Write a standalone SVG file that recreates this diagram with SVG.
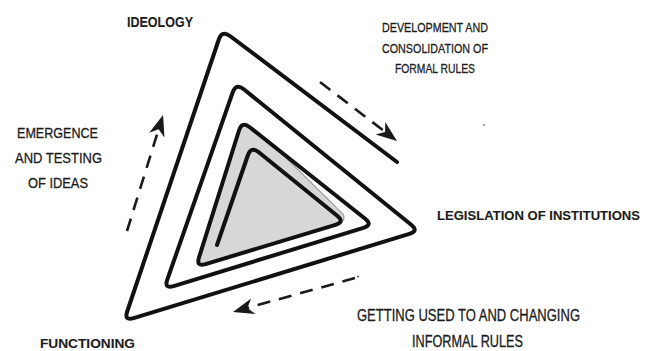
<svg xmlns="http://www.w3.org/2000/svg" width="654" height="351" viewBox="0 0 654 351">
  <style>
    .spiral { fill: none; stroke: #111; stroke-width: 4; stroke-linecap: round; stroke-linejoin: round; }
    .core { fill: #d7d7d7; stroke: #9c9c9c; stroke-width: 1.2; }
    .dash { fill: none; stroke: #1a1a1a; stroke-width: 2.6; stroke-dasharray: 13 9; }
    .lbl { font-family: "Liberation Sans", Arial, sans-serif; fill: #1c1c1c; stroke: #1c1c1c; stroke-width: 0.3; }
    .b { font-weight: bold; stroke-width: 0.1; }
  </style>
  <defs>
    <marker id="ah" viewBox="-22 -9 23 18" refX="-14" refY="0" markerWidth="23" markerHeight="18" markerUnits="userSpaceOnUse" orient="auto">
      <path d="M0,0 L-21,-8 L-15,0 L-21,8 Z" fill="#1a1a1a"/>
    </marker>
  </defs>

  <g id="spiral-triangle">
    <path class="core" d="M249.8,127.2 Q242,121 239,130.5 L199,257.5 Q196,267 205.6,264.1 L335.4,224.9 Q347,221.5 343,214 L276,148 Z"/>
    <path class="spiral" d="M397,162 L230,36 Q222,30 218.8,39.5 L127.2,311.5 Q124,321 133.6,318.1 L409.4,233.9 Q419,231 411.2,224.7 L243.8,89.3 Q236,83 232.7,92.4 L167.3,279.6 Q164,289 173.6,286.1 L363.4,227.9 Q373,225 365.2,218.8 L249.8,127.2 Q242,121 239,130.5 L199,257.5 Q196,267 205.6,264.1 L335.4,224.9 Q345,222 337.2,215.7 L258.8,152.3 Q251,146 247.8,155.5 L217,245"/>
  </g>

  <g id="connectors">
    <line class="dash" x1="320" y1="82" x2="385.9" y2="132.5" marker-end="url(#ah)"/>
    <line class="dash" x1="127" y1="231" x2="158.9" y2="128.4" marker-end="url(#ah)"/>
    <line class="dash" x1="355" y1="278" x2="246.5" y2="308.2" marker-end="url(#ah)"/>
    <circle cx="358" cy="276.5" r="1" fill="#555"/>
  </g>

  <g id="ideology">
    <text class="lbl b" x="127" y="27" font-size="14.5" textLength="66" lengthAdjust="spacingAndGlyphs">IDEOLOGY</text>
  </g>
  <g id="formal-rules">
    <text class="lbl" x="382" y="31.5" font-size="13.5" textLength="106" lengthAdjust="spacingAndGlyphs">DEVELOPMENT AND</text>
    <text class="lbl" x="382" y="52.5" font-size="13.5" textLength="106" lengthAdjust="spacingAndGlyphs">CONSOLIDATION OF</text>
    <text class="lbl" x="395" y="73" font-size="13.5" textLength="80" lengthAdjust="spacingAndGlyphs">FORMAL RULES</text>
  </g>
  <g id="ideas">
    <text class="lbl" x="17" y="138" font-size="15" textLength="81" lengthAdjust="spacingAndGlyphs">EMERGENCE</text>
    <text class="lbl" x="15" y="163" font-size="15" textLength="87" lengthAdjust="spacingAndGlyphs">AND TESTING</text>
    <text class="lbl" x="28" y="188" font-size="15" textLength="60" lengthAdjust="spacingAndGlyphs">OF IDEAS</text>
  </g>
  <g id="legislation">
    <text class="lbl b" x="437" y="220" font-size="13" textLength="203" lengthAdjust="spacingAndGlyphs">LEGISLATION OF INSTITUTIONS</text>
  </g>
  <g id="informal-rules">
    <text class="lbl" x="357" y="321" font-size="16" textLength="223" lengthAdjust="spacingAndGlyphs">GETTING USED TO AND CHANGING</text>
    <text class="lbl" x="412" y="347" font-size="16" textLength="111" lengthAdjust="spacingAndGlyphs">INFORMAL RULES</text>
  </g>
  <g id="functioning">
    <text class="lbl b" x="40" y="348" font-size="13.5" textLength="95" lengthAdjust="spacingAndGlyphs">FUNCTIONING</text>
  </g>
  <circle cx="484" cy="125" r="1" fill="#888"/>
</svg>
